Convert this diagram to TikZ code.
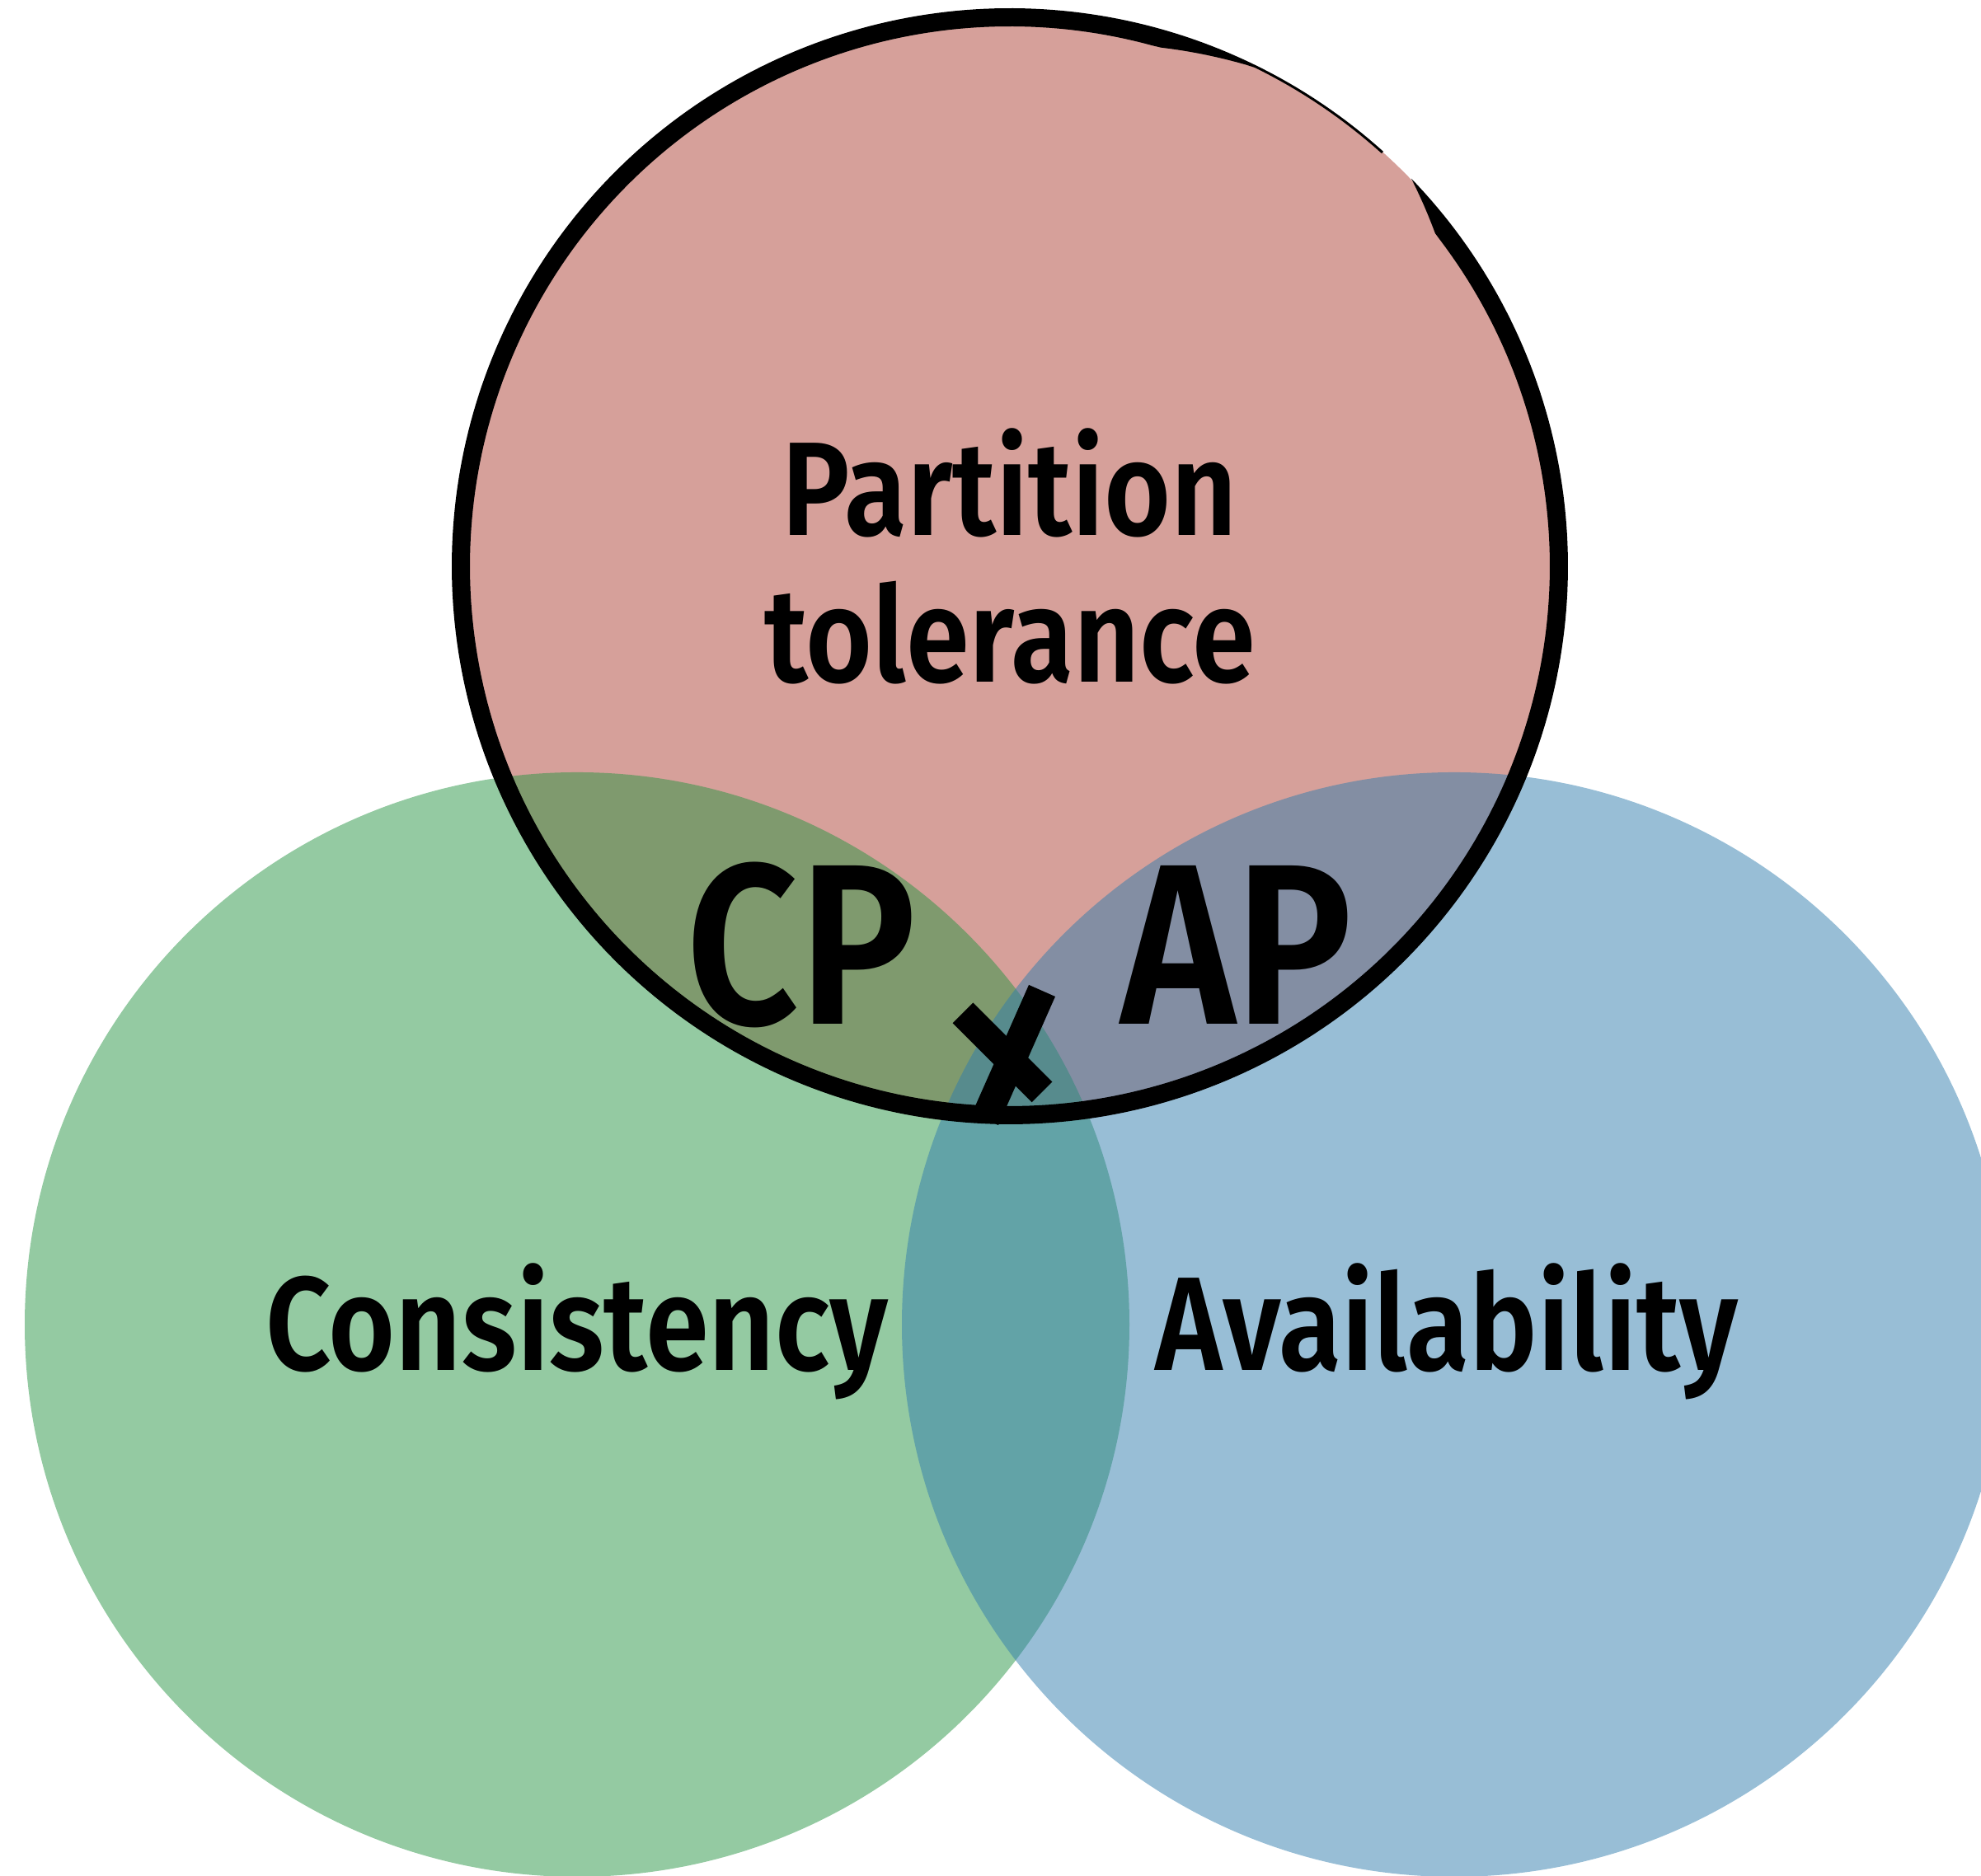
\documentclass[tikz,border=0pt]{standalone}
\usepackage{fontspec}
\setmainfont{Fira Sans}[BoldFont={Fira Sans SemiBold}]
\usepackage{graphicx}
\usetikzlibrary{positioning, calc}
\tikzset{>=latex}

\definecolor{ptred}{RGB}{173,65,53}
\definecolor{cgreen}{RGB}{41,149,69}
\definecolor{ablue}{RGB}{49,125,173}

\tikzset{
    set/.style={circle, inner sep=0, minimum size=13.4cm, fill opacity=.5},
    label/.style={font=\fontsize{46}{54}\selectfont\bfseries, anchor=base, inner sep=0},
    pair/.style={font=\fontsize{79}{90}\selectfont\bfseries, anchor=base, inner sep=0},
}
\newcommand{\narrowtext}[1]{\scalebox{0.86}[1]{#1}}

\begin{document}
\begin{tikzpicture}
    \clip (0,0) rectangle (24.03,22.76);

    \node[set, minimum size=13.52cm, fill=ptred] (ptol) at (12.25,15.89) {};
    \node[set, fill=cgreen] (cons) at (7.00,6.69) {};
    \node[set, fill=ablue] (avail) at (17.64,6.69) {};

    % marker outline round P, thin near the top and open at 44--48 deg
    \fill[shift={(ptol.center)}]
        plot[domain=48:404, samples=360] (\x:6.77)
        -- plot[domain=404:48, samples=360]
           (\x:{6.77-min(0.03+0.19*max(0,min(1,(\x-64)/10)), 0.22*max(0,(404-\x)/6))})
        -- cycle;

    % the cross where all three meet
    \draw[line width=0.35cm] (11.68,10.47) -- (12.64,9.51);
    \draw[line width=0.35cm] (12.64,10.74) -- (11.95,9.18);

    \node[label] (partition) at (12.25,16.26) {\narrowtext{Partition}};
    \node[label] (tolerance) at (12.25,14.48) {\narrowtext{tolerance}};
    \node[label] (consistency) at (7.00,6.13) {\narrowtext{Consistency}};
    \node[label] (availability) at (17.55,6.13) {\narrowtext{Availability}};

    \node[pair] (cp) at (9.72,10.33) {\narrowtext{CP}};
    \node[pair] (ap) at (15.00,10.33) {\narrowtext{AP}};
\end{tikzpicture}
\end{document}
